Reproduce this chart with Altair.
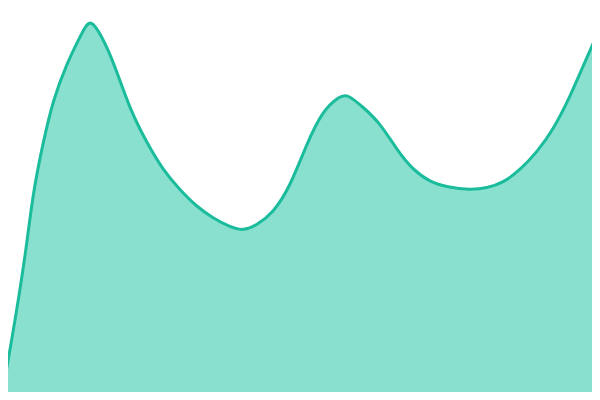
import altair as alt
import pandas as pd

xs = [0, 17, 27, 33, 43, 53, 67, 80, 85, 91, 100, 113, 130, 147, 163, 180, 197, 213, 230, 243,
      257, 273, 290, 307, 323, 340, 347, 363, 380, 397, 413, 430, 447, 470, 487, 503,
      520, 537, 553, 570, 587, 600]
values = [-7, 90, 157, 207, 257, 300, 337, 363, 373, 380, 367, 340, 290, 257, 230, 210, 193, 182, 173, 169,
          175, 187, 213, 257, 290, 304, 306, 293, 277, 250, 230, 218, 213, 210, 212, 217,
          230, 248, 270, 303, 343, 372]

df = pd.DataFrame({"x": xs, "v": values})

xsc = alt.Scale(domain=[8, 592], nice=False, zero=False)
ysc = alt.Scale(domain=[8, 392], nice=False, zero=False)

base = alt.Chart(df).encode(
    x=alt.X("x:Q", scale=xsc, axis=None),
    y=alt.Y("v:Q", scale=ysc, axis=None),
)

area = base.mark_area(interpolate="basis", color="#8ae0cf", clip=True)
line = base.mark_line(interpolate="basis", color="#1abc9c", strokeWidth=3, clip=True)

chart = (area + line).properties(width=584, height=384, padding=0).configure_view(stroke=None)

chart.save("out.html", embed_options={"renderer": "svg", "actions": False})
